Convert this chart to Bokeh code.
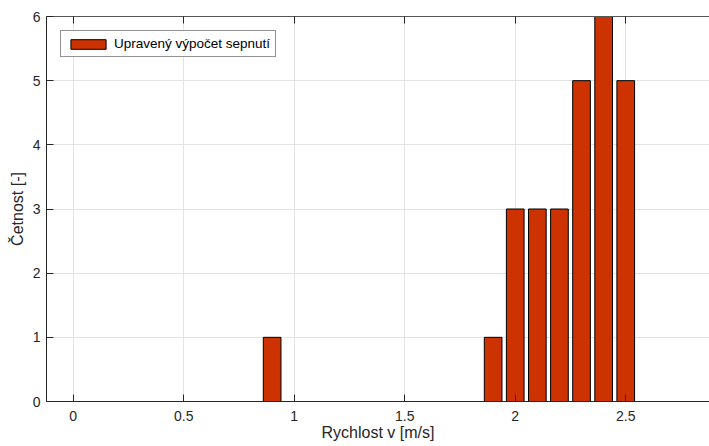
from bokeh.plotting import figure
from bokeh.models import (LinearAxis, FixedTicker, Range1d, ColumnDataSource, Legend,
                          LegendItem, CustomJSTickFormatter)
from bokeh.embed import file_html
from bokeh.resources import INLINE

# Data: histogram bins (speed, m/s) and counts
bin_centers = [round(0.1 * i, 1) for i in range(29)]
counts = [0, 0, 0, 0, 0, 0, 0, 0, 0, 1,
          0, 0, 0, 0, 0, 0, 0, 0, 0, 1,
          3, 3, 3, 5, 6, 5, 0, 0, 0]
x_ticks = [0, 0.5, 1, 1.5, 2, 2.5]
y_ticks = [0, 1, 2, 3, 4, 5, 6]
legend_text = "Upravený výpočet sepnutí"
x_label = "Rychlost v [m/s]"
y_label = "Četnost [-]"

FONT = "Liberation Sans"
AX = "#262626"

src = ColumnDataSource(dict(x=bin_centers, top=counts))

p = figure(width=709, height=446, output_backend="svg", toolbar_location=None,
           x_range=Range1d(-0.121, 2.879), y_range=Range1d(0, 6),
           min_border_left=46, min_border_right=0, min_border_top=16, min_border_bottom=45)
p.outline_line_color = None
p.background_fill_color = "white"
p.border_fill_color = "white"

r = p.vbar(x="x", top="top", bottom=0, width=0.08, source=src,
           fill_color="#CC3300", line_color="black", line_width=1)

for ax in (p.xaxis[0], p.yaxis[0]):
    ax.major_tick_in = 7
    ax.major_tick_out = 0
    ax.minor_tick_line_color = None
    ax.axis_line_color = AX
    ax.major_tick_line_color = AX
    ax.major_label_text_color = AX
    ax.major_label_text_font = FONT
    ax.major_label_text_font_size = "14px"
    ax.axis_label_text_font = FONT
    ax.axis_label_text_font_size = "16px"
    ax.axis_label_text_font_style = "normal"
    ax.axis_label_text_color = AX

p.xaxis[0].ticker = FixedTicker(ticks=x_ticks)
p.yaxis[0].ticker = FixedTicker(ticks=y_ticks)
p.xaxis[0].axis_label = x_label
p.yaxis[0].axis_label = y_label
p.xaxis[0].major_label_standoff = 9
p.xaxis[0].axis_label_standoff = 0
p.yaxis[0].major_label_standoff = 6
p.yaxis[0].axis_label_standoff = 4

top_ax = LinearAxis(ticker=FixedTicker(ticks=x_ticks),
                    formatter=CustomJSTickFormatter(code="return ''"))
top_ax.major_tick_in = 7
top_ax.major_tick_out = 0
top_ax.minor_tick_line_color = None
top_ax.axis_line_color = "#555555"
top_ax.major_tick_line_color = AX
top_ax.major_label_standoff = 0
p.add_layout(top_ax, "above")

p.xgrid.ticker = FixedTicker(ticks=x_ticks)
p.ygrid.ticker = FixedTicker(ticks=y_ticks)
p.grid.grid_line_color = "#e3e3e3"
p.grid.grid_line_width = 1

legend = Legend(items=[LegendItem(label=legend_text, renderers=[r])],
                location="top_left", margin=14, padding=5, spacing=0,
                glyph_width=44, glyph_height=12, label_height=12,
                label_standoff=4, label_text_font=FONT, label_text_font_size="13.5px",
                label_text_color="black", border_line_color=AX, border_line_width=1,
                background_fill_color="white", background_fill_alpha=1)
p.add_layout(legend)

open("out.html", "w").write(file_html(p, INLINE))
